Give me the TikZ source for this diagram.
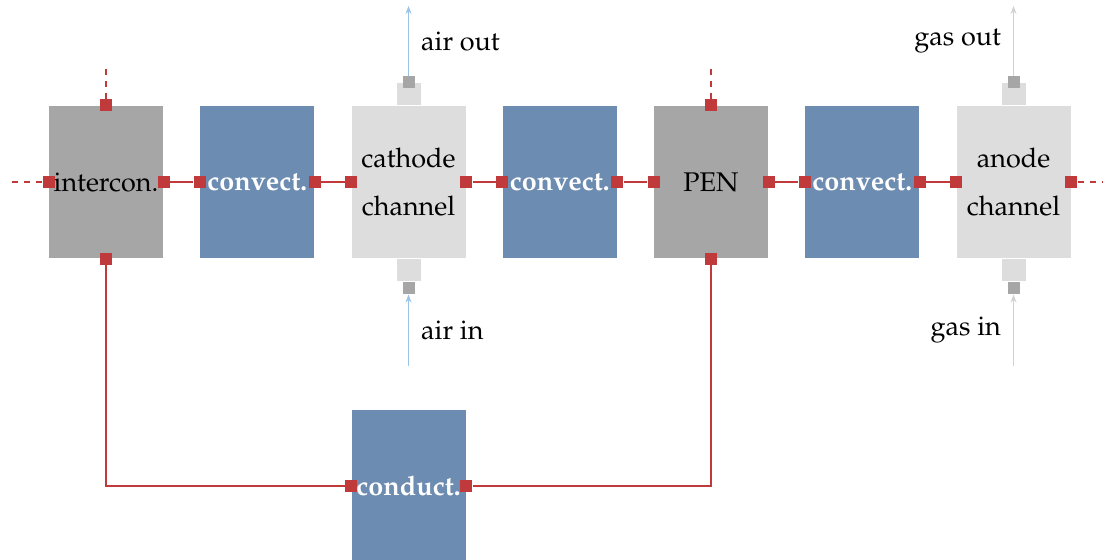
\documentclass[tikz,border=0pt]{standalone}
\usepackage[T1]{fontenc}
\usepackage{mathpazo}
\usepackage{xcolor}
\usetikzlibrary{arrows.meta,positioning}

\definecolor{layergray}{HTML}{A6A6A6}
\definecolor{convblue}{HTML}{6D8CB2}
\definecolor{chanfill}{HTML}{DDDDDD}
\definecolor{portred}{HTML}{C0393B}
\definecolor{airblue}{HTML}{9CC3E5}
\definecolor{gasgray}{HTML}{D2D2D2}

\begin{document}
\begin{tikzpicture}[
    x=0.4pt, y=-0.4pt,
    font=\fontsize{10.8}{19.2}\selectfont,
    blk/.style={minimum width=45.6pt, minimum height=60.8pt, inner sep=0pt, align=center},
    layer/.style={blk, fill=layergray},
    conv/.style={blk, fill=convblue, text=white, font=\fontsize{10.8}{19.2}\selectfont\bfseries},
    chan/.style={blk, fill=chanfill},
    tab/.style={fill=chanfill, minimum width=9.6pt, minimum height=8.8pt, inner sep=0pt},
    port/.style={fill=portred, minimum size=4.8pt, inner sep=0pt},
    gport/.style={fill=layergray, minimum size=4.8pt, inner sep=0pt},
    wire/.style={portred, line width=0.45pt},
    stub/.style={wire, dash pattern=on 2.4pt off 2.4pt},
    air/.style={-{Stealth[length=3.2pt,width=2.4pt]}, airblue, line width=0.45pt},
    gas/.style={air, gasgray},
    flowlabel/.style={text=black}
]
\useasboundingbox (0,0) rectangle (1103,559);
% blocks
\node[layer] (ic) at (106,182) {intercon.};
\node[conv, right=14.5pt of ic] (cv1) {convect.};
\node[chan, right=14.5pt of cv1] (cc) {cathode\\channel};
\node[conv, right=14.5pt of cc] (cv2) {convect.};
\node[layer, right=14.5pt of cv2] (pen) {PEN};
\node[conv, right=14.5pt of pen] (cv3) {convect.};
\node[chan, right=14.5pt of cv3] (ac) {anode\\channel};
\node[conv, below=60.4pt of cc] (cd) {conduct.};
% gas/air tabs
\foreach \b in {cc,ac} {
  \node[tab, above=0pt of \b.north] (\b-tt) {};
  \node[tab, below=0pt of \b.south] (\b-tb) {};
  \node[gport] (\b-po) at (\b-tt.north) {};
  \node[gport, below=0pt of \b-tb.south] (\b-pi) {};
  \coordinate[above=28pt of \b-po.north] (\b-out);
  \coordinate[below=28.4pt of \b-pi.south] (\b-in);
}
% thermal ports
\foreach \b in {ic,cv1,cc,cv2,pen,cv3,ac,cd} {
  \node[port] (\b-w) at (\b.west) {};
  \node[port] (\b-e) at (\b.east) {};
}
\foreach \b in {ic,pen} {
  \node[port] (\b-n) at (\b.north) {};
  \node[port] (\b-s) at (\b.south) {};
  \coordinate[above=12.8pt of \b-n.north] (\b-nx);
}
\coordinate[left=13.2pt of ic-w.west] (ic-wx);
\coordinate[right=10.8pt of ac-e.east] (ac-ex);
% connections
\draw[wire] (ic-e) -- (cv1-w);
\draw[wire] (cv1-e) -- (cc-w);
\draw[wire] (cc-e) -- (cv2-w);
\draw[wire] (cv2-e) -- (pen-w);
\draw[wire] (pen-e) -- (cv3-w);
\draw[wire] (cv3-e) -- (ac-w);
\draw[wire] (ic-s) |- (cd-w);
\draw[wire] (pen-s) |- (cd-e);
\draw[stub] (ic-w) -- (ic-wx);
\draw[stub] (ic-n) -- (ic-nx);
\draw[stub] (pen-n) -- (pen-nx);
\draw[stub] (ac-e) -- (ac-ex);
% flows
\draw[air] (cc-po) -- (cc-out) node[flowlabel, midway, right=1.5pt] {air out};
\draw[air] (cc-in) -- (cc-pi) node[flowlabel, midway, right=1.5pt] {air in};
\draw[gas] (ac-po) -- (ac-out) node[flowlabel, midway, left=1.5pt] {gas out};
\draw[gas] (ac-in) -- (ac-pi) node[flowlabel, midway, left=1.5pt] {gas in};
\end{tikzpicture}
\end{document}
